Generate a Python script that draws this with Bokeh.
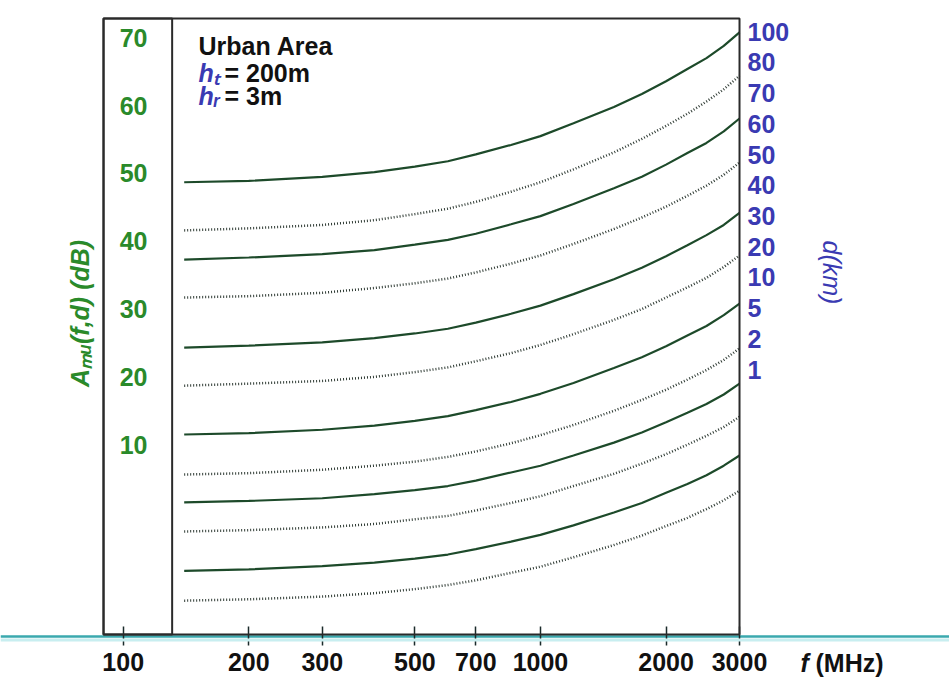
import math
from bokeh.plotting import figure
from bokeh.models import Range1d, LinearAxis, FixedTicker, Label, Span, BoxAnnotation
from bokeh.embed import file_html
from bokeh.resources import INLINE

# ---------------- data ----------------
freq_mhz = [140, 200, 300, 400, 500, 600, 700, 850, 1000, 1200, 1500, 1750, 2000, 2250, 2500, 2750, 3000]

a_100km = [48.7, 48.9, 49.5, 50.2, 51.0, 51.8, 52.8, 54.2, 55.5, 57.4, 59.8, 61.7, 63.6, 65.4, 67.0, 68.8, 70.8]
a_80km = [41.6, 41.9, 42.4, 43.1, 44.0, 44.8, 45.8, 47.3, 48.7, 50.6, 53.1, 55.1, 57.0, 58.8, 60.6, 62.4, 64.4]
a_70km = [37.3, 37.6, 38.1, 38.7, 39.5, 40.2, 41.1, 42.5, 43.7, 45.5, 47.8, 49.5, 51.3, 53.0, 54.5, 56.2, 58.1]
a_60km = [31.7, 31.9, 32.4, 33.1, 33.8, 34.5, 35.4, 36.7, 37.9, 39.6, 41.8, 43.5, 45.1, 46.7, 48.2, 49.8, 51.6]
a_50km = [24.3, 24.6, 25.1, 25.7, 26.4, 27.1, 28.0, 29.3, 30.5, 32.2, 34.4, 36.1, 37.8, 39.4, 40.9, 42.4, 44.2]
a_40km = [18.7, 19.0, 19.4, 20.0, 20.7, 21.4, 22.3, 23.5, 24.7, 26.3, 28.4, 30.0, 31.7, 33.2, 34.6, 36.2, 37.9]
a_30km = [11.5, 11.7, 12.2, 12.8, 13.5, 14.2, 15.1, 16.3, 17.5, 19.1, 21.3, 22.9, 24.5, 26.1, 27.5, 29.1, 30.8]
a_20km = [5.6, 5.8, 6.3, 6.9, 7.5, 8.2, 9.0, 10.2, 11.4, 12.9, 15.0, 16.6, 18.1, 19.6, 21.0, 22.5, 24.2]
a_10km = [1.5, 1.7, 2.1, 2.7, 3.3, 3.9, 4.7, 5.9, 6.9, 8.4, 10.3, 11.8, 13.3, 14.7, 16.0, 17.4, 19.0]
a_5km = [-2.8, -2.6, -2.2, -1.7, -1.0, -0.5, 0.3, 1.4, 2.4, 3.9, 5.7, 7.2, 8.6, 10.0, 11.3, 12.6, 14.1]
a_2km = [-8.6, -8.4, -7.9, -7.4, -6.8, -6.2, -5.4, -4.3, -3.3, -1.9, 0.0, 1.4, 2.9, 4.2, 5.5, 6.9, 8.4]
a_1km = [-13.0, -12.8, -12.4, -11.9, -11.3, -10.7, -10.0, -8.9, -8.0, -6.6, -4.8, -3.4, -2.0, -0.8, 0.5, 1.8, 3.2]

solid_curves = [a_100km, a_70km, a_50km, a_30km, a_10km, a_2km]
dotted_curves = [a_80km, a_60km, a_40km, a_20km, a_5km, a_1km]

x_ticks = [100, 200, 300, 500, 700, 1000, 2000, 3000]
a_ticks = [10, 20, 30, 40, 50, 60, 70]
d_km_labels = ["1", "2", "5", "10", "20", "30", "40", "50", "60", "70", "80", "100"]

# chart box (data units) and the divider of the label strip
box_f_min, box_f_max = 89.7, 3000
box_a_min, box_a_max = -18.0, 72.85
divider_f = 131

# ---------------- styles ----------------
GREEN = "#2a8a2a"
BLUE = "#3a3ab2"
CURVE = "#1d4a2a"
DOT = "#2e3a33"
BORDER = "#2a2a2a"
TEAL = "#3aa9ae"
FONT = "Liberation Sans"
FS = "25px"

p = figure(width=949, height=682, x_axis_type="log",
           x_range=Range1d(50.8, 9559), y_range=Range1d(-25.07, 75.50),
           min_border_left=0, min_border_right=0, min_border_top=0, min_border_bottom=0,
           output_backend="svg", toolbar_location=None)
p.grid.visible = False
p.outline_line_color = None
p.background_fill_color = "white"
p.border_fill_color = "white"

# faint halo under the teal base line
p.add_layout(Span(location=-18.8, dimension="width", line_color="#c8eef0", line_width=3))

# box and strip
p.add_layout(BoxAnnotation(left=box_f_min, right=box_f_max, bottom=box_a_min, top=box_a_max,
                           fill_color=None, line_color=BORDER, line_alpha=1, line_width=2))
p.add_layout(BoxAnnotation(left=box_f_min, right=divider_f, bottom=box_a_min, top=box_a_max,
                           fill_color=None, line_color=BORDER, line_alpha=1, line_width=2))

for ys in solid_curves:
    p.line(freq_mhz, ys, line_color=CURVE, line_width=2.2)
for ys in dotted_curves:
    p.line(freq_mhz, ys, line_color=DOT, line_width=2.5, line_dash="1 2")

# x axis (teal base line across the page)
xa = p.xaxis[0]
xa.fixed_location = -18.3
xa.ticker = FixedTicker(ticks=x_ticks, minor_ticks=[])
xa.major_label_overrides = {v: str(v) for v in x_ticks}
xa.major_label_text_font = FONT
xa.major_label_text_font_style = "bold"
xa.major_label_text_font_size = FS
xa.major_label_text_color = "#111111"
xa.major_tick_in = 10
xa.major_tick_out = 9
xa.major_tick_line_color = "#1a2a2a"
xa.major_tick_line_width = 1.5
xa.axis_line_color = TEAL
xa.axis_line_width = 2.5
xa.major_label_standoff = 7

# left y axis (labels inside the strip)
ya = p.yaxis[0]
ya.fixed_location = box_f_min
ya.ticker = FixedTicker(ticks=a_ticks, minor_ticks=[])
ya.major_tick_in = 0
ya.major_tick_out = 0
ya.axis_line_color = None
ya.major_label_standoff = -44
ya.major_label_text_font = FONT
ya.major_label_text_font_style = "bold"
ya.major_label_text_font_size = FS
ya.major_label_text_color = GREEN

# right axis: distance labels
p.extra_y_ranges = {"d": Range1d(-10.186, 12.015)}
ra = LinearAxis(y_range_name="d", fixed_location=box_f_max,
                ticker=FixedTicker(ticks=list(range(len(d_km_labels))), minor_ticks=[]),
                major_label_overrides={i: s for i, s in enumerate(d_km_labels)})
ra.major_tick_in = 0
ra.major_tick_out = 0
ra.axis_line_color = None
ra.major_label_standoff = 8
ra.major_label_text_font = FONT
ra.major_label_text_font_style = "bold"
ra.major_label_text_font_size = FS
ra.major_label_text_color = BLUE
p.add_layout(ra, "right")

def lab(text, x, y, color="#111111", style="bold", size=FS, **kw):
    kw.setdefault("text_baseline", "bottom")
    p.add_layout(Label(text=text, x=x, y=y, x_units="canvas", y_units="canvas",
                       text_font=FONT, text_font_style=style, text_font_size=size,
                       text_color=color, **kw))

lab("Urban Area", 198, 59)
lab("hₜ", 198, 86, color=BLUE, style="bold italic")
lab("= 200m", 224, 86)
lab("hᵣ", 198, 109, color=BLUE, style="bold italic")
lab("= 3m", 224, 109)
lab("f", 800, 676, style="bold italic")
lab("(MHz)", 815, 676)
lab("d(km)", 831, 272, color=BLUE, style="italic", angle=-math.pi / 2,
    text_align="center", text_baseline="middle")
lab("Aₘᵤ(f,d) (dB)", 79, 313, color=GREEN, style="bold italic", angle=math.pi / 2,
    text_align="center", text_baseline="middle")

open("out.html", "w").write(file_html(p, INLINE))
